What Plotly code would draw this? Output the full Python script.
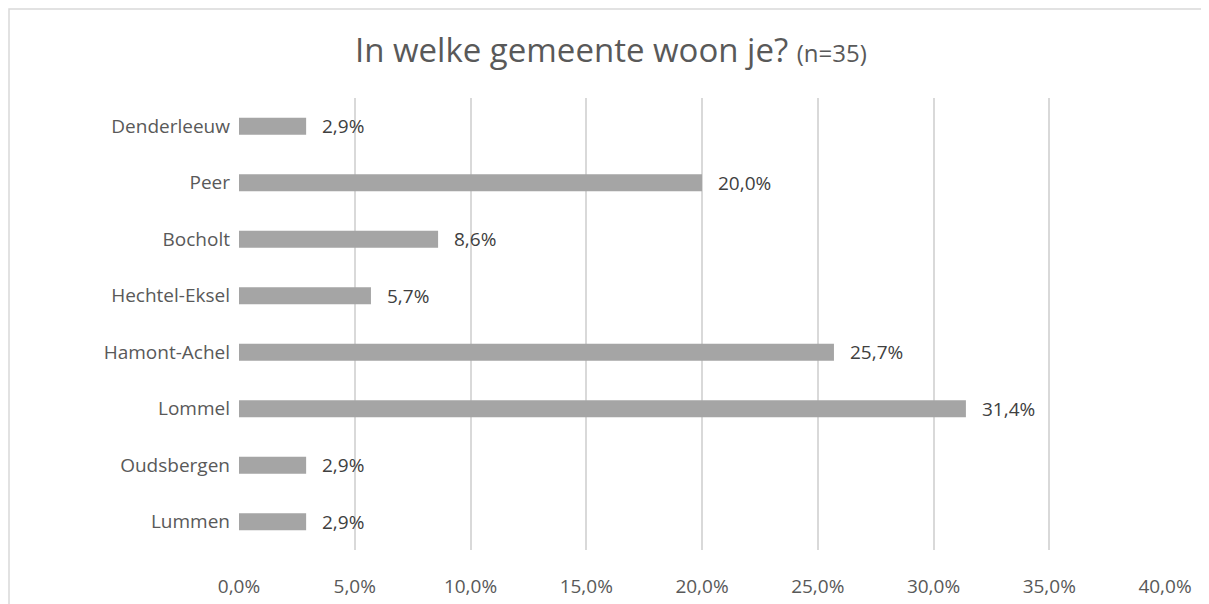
import plotly.graph_objects as go

# survey answers, top to bottom as shown
gemeenten = ["Denderleeuw", "Peer", "Bocholt", "Hechtel-Eksel", "Hamont-Achel", "Lommel", "Oudsbergen", "Lummen"]
percentages = [2.9, 20.0, 8.6, 5.7, 25.7, 31.4, 2.9, 2.9]
x_ticks = [0, 5, 10, 15, 20, 25, 30, 35, 40]
x_ticktext = [f"{t:.1f}%".replace(".", ",") for t in x_ticks]

FONT = "Open Sans"
GRID = "#D9D9D9"

# page body has an 8px margin, so the figure is a bit smaller than the window
W, H = 1201, 596
ML, MR, MT, MB = 231, 44, 90, 54
pw, ph = W - ML - MR, H - MT - MB

fig = go.Figure(go.Bar(
    x=percentages,
    y=gemeenten,
    orientation="h",
    width=0.3,
    marker=dict(color="#A5A5A5", line=dict(width=0)),
    hoverinfo="skip",
))

# data labels to the right of each bar
for name, val in zip(gemeenten, percentages):
    fig.add_annotation(
        x=val, y=name, xref="x", yref="y",
        text=f"{val:.1f}%".replace(".", ","),
        showarrow=False, xanchor="left", xshift=14,
        font=dict(family=FONT, size=19, color="#404040"),
    )

# chart border (Excel chart area), runs off the right/bottom of the picture
fig.add_shape(
    type="rect", xref="paper", yref="paper",
    x0=-(ML - 1) / pw, x1=1.5, y0=-0.5, y1=1 + (MT - 1) / ph,
    line=dict(color=GRID, width=1.5), fillcolor="rgba(0,0,0,0)", layer="below",
)

fig.update_layout(
    width=W, height=H,
    margin=dict(l=ML, r=MR, t=MT, b=MB),
    paper_bgcolor="white", plot_bgcolor="white",
    showlegend=False,
    font=dict(family=FONT, color="#595959"),
    title=dict(
        text="In welke gemeente woon je? <span style='font-size:24px'>(n=35)</span>",
        x=0.502, xanchor="center", y=1 - 42 / H, yanchor="middle", xref="container", yref="container",
        font=dict(family=FONT, size=33, color="#595959"),
    ),
    xaxis=dict(
        range=[0, 40], tickvals=x_ticks, ticktext=x_ticktext,
        showgrid=True, gridcolor=GRID, gridwidth=1.5,
        zeroline=False, showline=False, ticks="",
        tickfont=dict(family=FONT, size=19, color="#595959"),
        ticklabelstandoff=23, automargin=False, fixedrange=True,
    ),
    yaxis=dict(
        autorange="reversed", showgrid=False, zeroline=False, showline=False, ticks="",
        tickfont=dict(family=FONT, size=19, color="#595959"),
        ticklabelstandoff=8, automargin=False, fixedrange=True,
    ),
)

fig.write_html("out.html")
